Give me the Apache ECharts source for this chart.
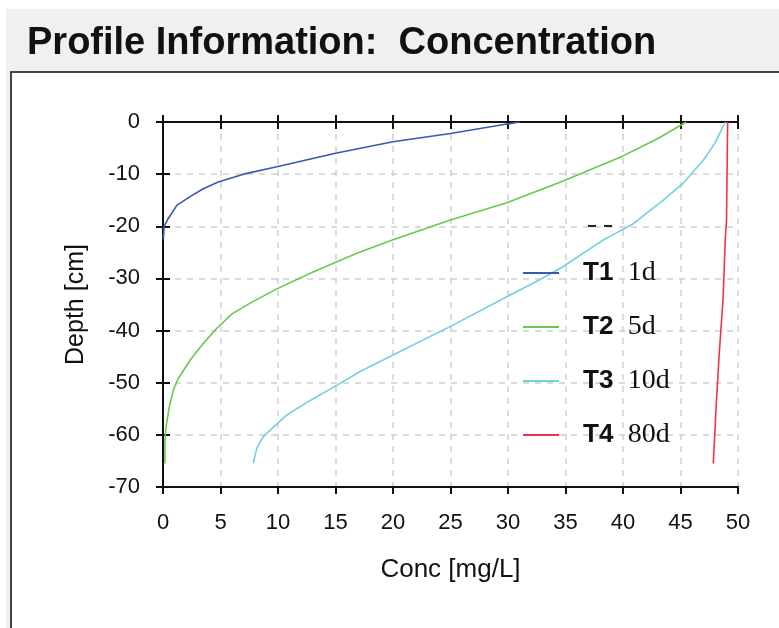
<!DOCTYPE html>
<html>
<head>
<meta charset="utf-8">
<script src="https://cdn.jsdelivr.net/npm/echarts@6/dist/echarts.min.js"></script>
<style>
  html, body { margin: 0; padding: 0; background: #ffffff; }
  #chart { width: 779px; height: 628px; }
</style>
</head>
<body>
<div id="chart"></div>
<script>
// Concentration profiles: concentration (mg/L) against depth (cm) at four times.
const seriesNames = ['T1', 'T2', 'T3', 'T4'];
const seriesTimes = ['1d', '5d', '10d', '80d'];

const t1Conc  = [0.03, 0.1, 0.46, 1.2, 2.35, 3.5, 4.8, 7.0, 9.9, 15.0, 20.0, 25.0, 29.9, 31.0];
const t1Depth = [-22.5, -20.0, -18.5, -16.0, -14.3, -12.8, -11.5, -10.0, -8.6, -6.0, -3.8, -2.2, -0.4, 0];

const t2Conc  = [0.17, 0.17, 0.26, 0.55, 0.9, 1.33, 2.35, 3.5, 4.66, 6.0, 7.85, 9.9, 12.8, 16.8, 20.0, 25.0, 29.9, 34.8, 40.0, 43.0, 45.5];
const t2Depth = [-65.5, -61.0, -58.5, -54.6, -51.4, -49.2, -45.7, -42.5, -39.6, -36.8, -34.4, -32.0, -29.0, -25.2, -22.6, -18.8, -15.5, -11.3, -6.5, -3.2, 0];

const t3Conc  = [7.85, 8.15, 8.7, 9.6, 10.75, 12.8, 15.1, 17.1, 20.0, 25.0, 29.9, 32.8, 34.6, 38.3, 40.9, 43.5, 45.2, 47.0, 48.0, 48.9];
const t3Depth = [-65.5, -62.6, -60.4, -58.5, -56.2, -53.4, -50.5, -47.9, -44.7, -39.2, -33.5, -30.2, -28.0, -22.6, -19.5, -15.0, -11.8, -7.3, -4.0, 0];

const t4Conc  = [47.85, 48.1, 48.35, 48.7, 48.9, 49.0, 49.1];
const t4Depth = [-65.5, -54.6, -45.0, -34.0, -22.3, -19.0, 0];

const concTicks  = [0, 5, 10, 15, 20, 25, 30, 35, 40, 45, 50];
const depthTicks = [0, -10, -20, -30, -40, -50, -60, -70];

const colors = ['#3a58b4', '#6cc84c', '#72d0e2', '#ee3444'];

const concs  = [t1Conc, t2Conc, t3Conc, t4Conc];
const depths = [t1Depth, t2Depth, t3Depth, t4Depth];

function pairs(xs, ys) { return xs.map((x, i) => [x, ys[i]]); }

const chart = echarts.init(document.getElementById('chart'), null, { renderer: 'canvas' });

const sans = '"Liberation Sans", Arial, sans-serif';
const serif = '"Liberation Serif", "Times New Roman", serif';

const axisBase = {
  type: 'value',
  min: concTicks[0],
  max: concTicks[concTicks.length - 1],
  interval: 5
};
const yBase = {
  type: 'value',
  min: depthTicks[depthTicks.length - 1],
  max: depthTicks[0],
  interval: 10
};
const tickStyle = { color: '#111', width: 2 };
const gridLine = { show: true, lineStyle: { color: '#cfcfcf', width: 1.5, type: [6, 6] } };

const option = {
  backgroundColor: '#ffffff',
  animation: false,
  graphic: [
    { type: 'rect', z: -10, shape: { x: 6, y: 9, width: 780, height: 630 }, style: { fill: '#f0f0f0' } },
    { type: 'rect', z: -9, shape: { x: 11, y: 72, width: 780, height: 600 }, style: { fill: '#ffffff', stroke: '#454545', lineWidth: 2 } },
    { type: 'text', z: 10, left: 27, top: 25,
      style: { text: 'Profile Information:  Concentration', fill: '#111',
        font: 'bold 38px ' + sans } },
    { type: 'rect', z: 10, shape: { x: 588, y: 225, width: 8, height: 2 }, style: { fill: '#222' } },
    { type: 'rect', z: 10, shape: { x: 604, y: 225, width: 8, height: 2 }, style: { fill: '#222' } }
  ],
  grid: { left: 163, right: 41, top: 122, bottom: 141, containLabel: false },
  legend: {
    orient: 'vertical',
    left: 518,
    top: 254,
    itemWidth: 36,
    itemHeight: 14,
    itemGap: 26,
    icon: 'path://M0,6 L36,6 L36,8 L0,8 Z',
    data: seriesNames,
    formatter: function (name) {
      const i = seriesNames.indexOf(name);
      return '{a|' + name + '} {b|' + seriesTimes[i] + '}';
    },
    textStyle: {
      rich: {
        a: { fontFamily: sans, fontWeight: 'bold', fontSize: 26, color: '#111', padding: [0, 0, 0, 19], lineHeight: 30 },
        b: { fontFamily: serif, fontWeight: 'normal', fontSize: 28, color: '#111', lineHeight: 30, padding: [0, 0, 0, 11] }
      }
    }
  },
  xAxis: [
    Object.assign({}, axisBase, {
      position: 'bottom',
      name: 'Conc [mg/L]',
      nameLocation: 'middle',
      nameGap: 70,
      nameTextStyle: { fontFamily: sans, fontSize: 26, color: '#111' },
      axisLine: { show: true, onZero: false, lineStyle: { color: '#111', width: 2 } },
      axisTick: { show: true, inside: false, length: 7, lineStyle: tickStyle },
      axisLabel: { show: true, margin: 25, fontFamily: sans, fontSize: 22, color: '#111' },
      splitLine: gridLine
    }),
    Object.assign({}, axisBase, {
      position: 'bottom',
      axisLine: { show: false }, axisTick: { show: true, inside: true, length: 7, lineStyle: tickStyle },
      axisLabel: { show: false }, splitLine: { show: false }
    }),
    Object.assign({}, axisBase, {
      position: 'top',
      axisLine: { show: true, onZero: false, lineStyle: { color: '#111', width: 2 } },
      axisTick: { show: true, inside: false, length: 7, lineStyle: tickStyle },
      axisLabel: { show: false }, splitLine: { show: false }
    }),
    Object.assign({}, axisBase, {
      position: 'top',
      axisLine: { show: false }, axisTick: { show: true, inside: true, length: 7, lineStyle: tickStyle },
      axisLabel: { show: false }, splitLine: { show: false }
    })
  ],
  yAxis: [
    Object.assign({}, yBase, {
      position: 'left',
      name: 'Depth [cm]',
      nameLocation: 'middle',
      nameGap: 74,
      nameRotate: 90,
      nameTextStyle: { fontFamily: sans, fontSize: 25, color: '#111' },
      axisLine: { show: true, onZero: false, lineStyle: { color: '#111', width: 2 } },
      axisTick: { show: true, inside: false, length: 7, lineStyle: tickStyle },
      axisLabel: { show: true, margin: 23, fontFamily: sans, fontSize: 22, color: '#111' },
      splitLine: gridLine
    }),
    Object.assign({}, yBase, {
      position: 'left',
      axisLine: { show: false }, axisTick: { show: true, inside: true, length: 7, lineStyle: tickStyle },
      axisLabel: { show: false }, splitLine: { show: false }
    })
  ],
  series: seriesNames.map((name, i) => ({
    name: name,
    type: 'line',
    xAxisIndex: 0,
    yAxisIndex: 0,
    data: pairs(concs[i], depths[i]),
    showSymbol: false,
    symbol: 'none',
    smooth: false,
    color: colors[i],
    lineStyle: { color: colors[i], width: 1.6 },
    z: 3
  }))
};

chart.setOption(option);
</script>
</body>
</html>
